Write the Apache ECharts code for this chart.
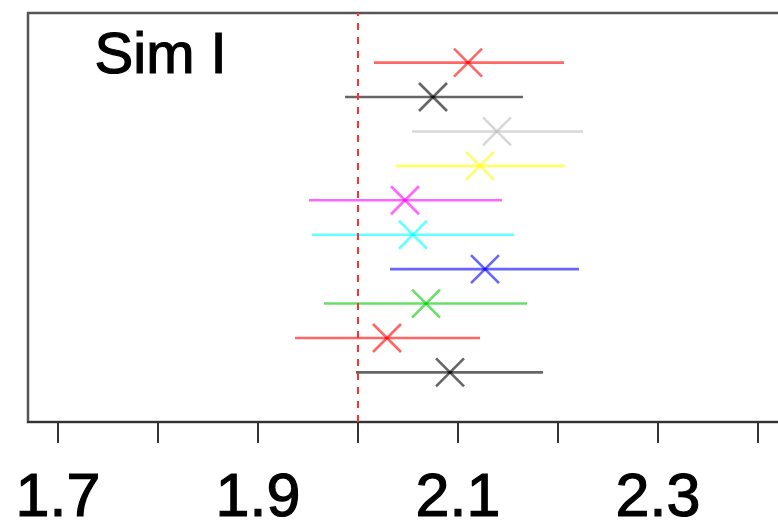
<!DOCTYPE html>
<html>
<head>
<meta charset="utf-8">
<script src="https://cdn.jsdelivr.net/npm/echarts@6/dist/echarts.min.js"></script>
<style>html,body{margin:0;padding:0;background:#fff;}#c{width:778px;height:527px;}</style>
</head>
<body>
<div id="c"></div>
<script>
// rows listed bottom to top
var rowPos = [1, 2, 3, 4, 5, 6, 7, 8, 9, 10];
var lower  = [1.998, 1.937, 1.966, 2.032, 1.954, 1.951, 2.038, 2.054, 1.987, 2.016];
var center = [2.092, 2.029, 2.068, 2.127, 2.055, 2.047, 2.122, 2.139, 2.075, 2.110];
var upper  = [2.185, 2.122, 2.169, 2.221, 2.156, 2.144, 2.207, 2.225, 2.165, 2.206];
var rowColors = ['#000000', '#FF0000', '#00CD00', '#0000FF', '#00FFFF', '#FF00FF', '#FFFF00', '#BEBEBE', '#000000', '#FF0000'];
var tickValues = [1.7, 1.8, 1.9, 2.0, 2.1, 2.2, 2.3, 2.4];
var labelValues = [1.7, 1.9, 2.1, 2.3];
var refValue = 2.0;
var panelLabel = 'Sim I';

var data = rowPos.map(function (y, i) { return [lower[i], center[i], upper[i], y, i]; });

function hexToRgba(h, a) {
  var r = parseInt(h.substr(1, 2), 16), g = parseInt(h.substr(3, 2), 16), b = parseInt(h.substr(5, 2), 16);
  return 'rgba(' + r + ',' + g + ',' + b + ',' + a + ')';
}

var chart = echarts.init(document.getElementById('c'), null, {renderer: 'canvas'});
var FONT = '"Liberation Sans", Arial, Helvetica, sans-serif';
chart.setOption({
  animation: false,
  backgroundColor: '#ffffff',
  grid: {left: 28, right: -20, top: 13, bottom: 105, show: true, borderColor: '#555555', borderWidth: 2.5,
    backgroundColor: 'transparent', containLabel: false, outerBoundsMode: 'none'},
  xAxis: {
    type: 'value', min: 1.67, max: 2.44,
    splitLine: {show: false},
    axisLine: {show: true, onZero: false, lineStyle: {color: '#333333', width: 2}},
    axisTick: {show: true, length: 21, lineStyle: {color: '#333333', width: 2}, customValues: tickValues},
    axisLabel: {show: true, customValues: labelValues, fontSize: 61, fontFamily: FONT, color: '#000000', margin: 47,
      textBorderColor: '#000000', textBorderWidth: 1.2,
      hideOverlap: false, formatter: function (v) { return v.toFixed(1); }}
  },
  yAxis: {type: 'value', min: -0.44, max: 11.44, show: false, splitLine: {show: false}},
  graphic: [{
    type: 'text', left: 94, top: 27,
    style: {text: panelLabel, fontSize: 58, fontFamily: FONT, fill: '#000000', stroke: '#000000', lineWidth: 1.2}
  }],
  series: [{
    type: 'custom',
    data: data,
    encode: {x: [0, 1, 2], y: 3},
    renderItem: function (params, api) {
      var lo = api.coord([api.value(0), api.value(3)]);
      var c = api.coord([api.value(1), api.value(3)]);
      var hi = api.coord([api.value(2), api.value(3)]);
      var col = hexToRgba(rowColors[api.value(4)], 0.6);
      var s = 14;
      var st = {stroke: col, lineWidth: 2.6};
      return {type: 'group', children: [
        {type: 'line', shape: {x1: lo[0], y1: lo[1], x2: hi[0], y2: hi[1]}, style: st},
        {type: 'line', shape: {x1: c[0] - s, y1: c[1] - s, x2: c[0] + s, y2: c[1] + s}, style: st},
        {type: 'line', shape: {x1: c[0] - s, y1: c[1] + s, x2: c[0] + s, y2: c[1] - s}, style: st}
      ]};
    },
    markLine: {
      silent: true, symbol: 'none', label: {show: false},
      lineStyle: {color: '#FF3030', width: 2, type: [7, 7]},
      data: [{xAxis: refValue}]
    }
  }]
});
</script>
</body>
</html>
